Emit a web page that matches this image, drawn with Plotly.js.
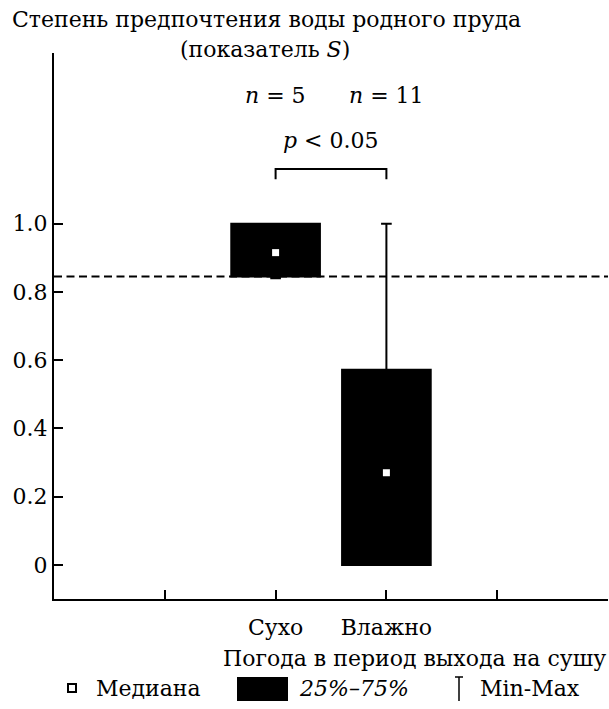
<!DOCTYPE html>
<html>
<head>
<meta charset="utf-8">
<script src="https://cdn.plot.ly/plotly-3.0.1.min.js"></script>
<style>html,body{margin:0;padding:0;background:#fff;}#chart{width:609px;height:709px;}</style>
</head>
<body>
<div id="chart"></div>
<script>
// ---- data ----
const categories = ['Сухо', 'Влажно'];
const xPos = [2, 3];
const sampleN = [5, 11];
const minVals = [0.84, 0.0];
const q1Vals = [0.845, 0.0];
const medianVals = [0.915, 0.27];
const q3Vals = [1.0, 0.572];
const maxVals = [1.0, 1.0];
const referenceLevel = 0.845;
const yTickVals = [0, 0.2, 0.4, 0.6, 0.8, 1.0];
const yTickText = ['0', '0.2', '0.4', '0.6', '0.8', '1.0'];
const xTickVals = [1, 2, 3, 4];
const xTickText = ['', categories[0], categories[1], ''];
const pValueText = '<i>p</i> &lt; 0.05';

// ---- layout geometry ----
const W = 609, H = 709;
const M = {l: 54, r: 1, t: 53, b: 110};
const plotW = W - M.l - M.r, plotH = H - M.t - M.b;
const px = x => (x - M.l) / plotW;
const py = y => (H - M.b - y) / plotH;
const FONT = 'DejaVu Serif';
const FS = 22;
const f = () => ({family: FONT, size: FS, color: '#000'});

const boxTrace = {
  type: 'box',
  x: xPos,
  q1: q1Vals,
  median: medianVals,
  q3: q3Vals,
  lowerfence: minVals,
  upperfence: maxVals,
  width: 0.8,
  whiskerwidth: 0.12,
  fillcolor: '#000',
  line: {color: '#000', width: 2},
  boxpoints: false,
  hoverinfo: 'skip',
  showlegend: false
};
const medianTrace = {
  type: 'scatter',
  mode: 'markers',
  x: xPos,
  y: medianVals,
  marker: {symbol: 'square', size: 7, color: '#fff', line: {width: 0}},
  hoverinfo: 'skip',
  showlegend: false
};

const annotations = [
  {xref: 'paper', yref: 'paper', x: px(266), y: py(20), xanchor: 'center', yanchor: 'middle',
   text: 'Степень предпочтения воды родного пруда', showarrow: false, font: f()},
  {xref: 'paper', yref: 'paper', x: px(265), y: py(49), xanchor: 'center', yanchor: 'middle',
   text: '(показатель <i>S</i>)', showarrow: false, font: f()},
  {xref: 'paper', yref: 'paper', x: 1, y: py(658), xanchor: 'right', yanchor: 'middle',
   text: 'Погода в период выхода на сушу', showarrow: false, font: f()},
  {xref: 'x', yref: 'y', x: (xPos[0] + xPos[1]) / 2, y: 1.245, xanchor: 'center', yanchor: 'middle',
   text: pValueText, showarrow: false, font: f()},
  // legend texts
  {xref: 'paper', yref: 'paper', x: px(94), y: py(688), xanchor: 'left', yanchor: 'middle',
   text: 'Медиана', showarrow: false, font: f()},
  {xref: 'paper', yref: 'paper', x: px(297), y: py(688), xanchor: 'left', yanchor: 'middle',
   text: '<i>25%–75%</i>', showarrow: false, font: f()},
  {xref: 'paper', yref: 'paper', x: px(478), y: py(688), xanchor: 'left', yanchor: 'middle',
   text: 'Min-Max', showarrow: false, font: f()}
];
sampleN.forEach((n, i) => {
  annotations.push({xref: 'x', yref: 'y', x: xPos[i], y: 1.375, xanchor: 'center', yanchor: 'middle',
    text: '<i>n</i> = ' + n, showarrow: false, font: f()});
});

const shapes = [
  {type: 'line', xref: 'paper', yref: 'y', x0: 0, x1: 1, y0: referenceLevel, y1: referenceLevel,
   line: {color: '#000', width: 2, dash: '8px,4.5px'}, layer: 'below'},
  {type: 'path', xref: 'x', yref: 'y',
   path: `M ${xPos[0]},1.13 L ${xPos[0]},1.16 L ${xPos[1]},1.16 L ${xPos[1]},1.13`,
   line: {color: '#000', width: 2}},
  // legend symbols
  {type: 'rect', xref: 'paper', yref: 'paper', x0: px(68), x1: px(76), y0: py(692), y1: py(684),
   line: {color: '#000', width: 2}, fillcolor: '#fff'},
  {type: 'rect', xref: 'paper', yref: 'paper', x0: px(237), x1: px(288), y0: py(701), y1: py(677),
   line: {width: 0}, fillcolor: '#000'},
  {type: 'line', xref: 'paper', yref: 'paper', x0: px(459), x1: px(459), y0: py(701), y1: py(677),
   line: {color: '#000', width: 1.5}},
  {type: 'line', xref: 'paper', yref: 'paper', x0: px(455), x1: px(463), y0: py(677), y1: py(677),
   line: {color: '#000', width: 1.5}}
];

const axisCommon = {
  showline: true, linecolor: '#000', linewidth: 2,
  ticks: 'inside', ticklen: 9, tickwidth: 2, tickcolor: '#000',
  showgrid: false, zeroline: false, fixedrange: true,
  tickfont: f()
};

const layout = {
  width: W, height: H,
  margin: M,
  paper_bgcolor: '#fff', plot_bgcolor: '#fff',
  showlegend: false,
  font: f(),
  xaxis: Object.assign({range: [0, 5], tickvals: xTickVals, ticktext: xTickText, ticklabelstandoff: 8}, axisCommon),
  yaxis: Object.assign({range: [-0.1, 1.5], tickvals: yTickVals, ticktext: yTickText}, axisCommon),
  annotations: annotations,
  shapes: shapes
};

Plotly.newPlot('chart', [boxTrace, medianTrace], layout, {displayModeBar: false, staticPlot: true});
</script>
</body>
</html>
